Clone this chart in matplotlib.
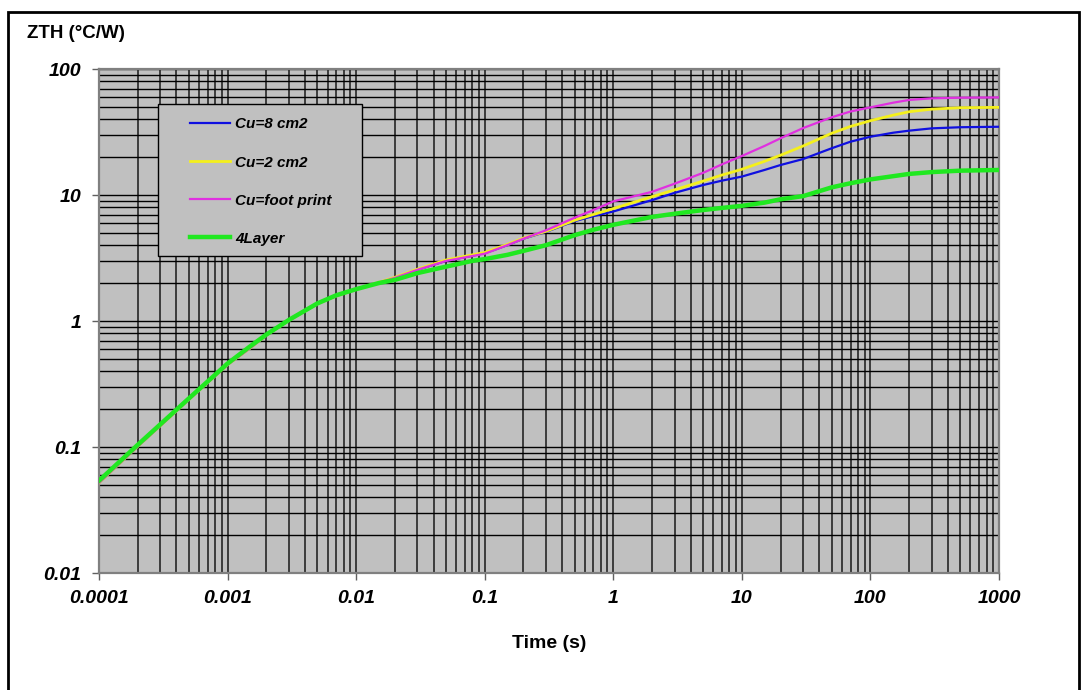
import matplotlib
matplotlib.use('Agg')
import matplotlib.pyplot as plt
from matplotlib.patches import Rectangle
from matplotlib.ticker import FixedLocator, LogLocator, NullFormatter

# Transient thermal impedance vs. time

t_early = [1e-4, 2e-4, 5e-4, 1e-3, 1.5e-3, 2e-3, 3e-3, 4e-3, 5e-3, 7e-3, 1e-2]
z_early = [0.052, 0.101, 0.238, 0.45, 0.61, 0.77, 1.01, 1.2, 1.37, 1.58, 1.78]

t_cu = t_early + [0.02, 0.03, 0.05, 0.1, 0.15, 0.2, 0.3, 0.5, 0.7, 1, 2, 3, 5, 7, 10,
                  15, 20, 30, 50, 70, 100, 150, 200, 300, 500, 1000]
z_cu8 = z_early + [2.2, 2.55, 3.0, 3.45, 4.0, 4.5, 5.1, 6.2, 6.8, 7.4, 9.1, 10.4, 12.0, 13.0, 14.0,
                   15.8, 17.3, 19.3, 23.5, 26.5, 29.0, 31.2, 32.4, 33.8, 34.5, 34.8]
z_cu2 = z_early + [2.22, 2.58, 3.05, 3.5, 4.05, 4.55, 5.15, 6.3, 7.0, 7.8, 9.7, 11.0, 12.9, 14.4, 16.0,
                   18.5, 20.7, 24.5, 30.9, 35.0, 38.9, 43.0, 45.8, 48.0, 49.3, 49.6]
z_foot = z_early + [2.2, 2.55, 3.0, 3.42, 4.0, 4.5, 5.25, 6.6, 7.6, 8.9, 10.6, 12.3, 15.0, 17.5, 20.4,
                    24.5, 28.2, 34.0, 41.4, 46.0, 49.6, 54.0, 56.8, 58.5, 59.2, 59.5]

t_4l = t_early + [0.015, 0.02, 0.03, 0.05, 0.08, 0.1, 0.15, 0.2, 0.3, 0.5, 0.7, 1, 2, 3, 5, 7, 10,
                  15, 20, 30, 50, 70, 100, 150, 200, 300, 500, 1000]
z_4l = [0.054, 0.104, 0.243, 0.46, 0.63, 0.78, 1.02, 1.21, 1.38, 1.6, 1.79,
        2.0, 2.12, 2.4, 2.7, 3.0, 3.1, 3.35, 3.6, 4.0, 4.8, 5.3, 5.8, 6.7, 7.1, 7.6, 7.9, 8.2,
        8.7, 9.25, 9.8, 11.5, 12.4, 13.3, 14.1, 14.7, 15.2, 15.6, 15.8]

series = [
    ('Cu=8 cm2', t_cu, z_cu8, '#1010e0', 1.6),
    ('Cu=2 cm2', t_cu, z_cu2, '#f4f01c', 2.0),
    ('Cu=foot print', t_cu, z_foot, '#e030e0', 1.6),
    ('4Layer', t_4l, z_4l, '#20e820', 3.2),
]

x_ticks = [1e-4, 1e-3, 1e-2, 1e-1, 1, 10, 100, 1000]
x_labels = ['0.0001', '0.001', '0.01', '0.1', '1', '10', '100', '1000']
y_ticks = [0.01, 0.1, 1, 10, 100]
y_labels = ['0.01', '0.1', '1', '10', '100']

plt.rcParams['font.family'] = ['Liberation Sans', 'DejaVu Sans']

fig = plt.figure(figsize=(10.82, 6.90), dpi=100)
ax = fig.add_axes([99 / 1082, 117 / 690, 900 / 1082, 504 / 690])
ax.set_facecolor('#c0c0c0')

for label, t, z, color, lw in series:
    ax.plot(t, z, color=color, lw=lw, label=label, zorder=3, solid_joinstyle='round')

ax.set_xscale('log')
ax.set_yscale('log')
ax.set_xlim(1e-4, 1000)
ax.set_ylim(0.01, 100)

ax.xaxis.set_major_locator(FixedLocator(x_ticks))
ax.yaxis.set_major_locator(FixedLocator(y_ticks))
ax.set_xticklabels(x_labels)
ax.set_yticklabels(y_labels)
ax.xaxis.set_minor_locator(LogLocator(base=10, subs=range(2, 10), numticks=20))
ax.yaxis.set_minor_locator(LogLocator(base=10, subs=range(2, 10), numticks=20))
ax.xaxis.set_minor_formatter(NullFormatter())
ax.yaxis.set_minor_formatter(NullFormatter())

ax.tick_params(which='major', length=5, width=1, color='#606060', pad=7.5)
ax.tick_params(which='minor', length=0)
for lab in ax.get_xticklabels() + ax.get_yticklabels():
    lab.set_fontsize(14)
    lab.set_fontweight('bold')
    lab.set_fontstyle('italic')

ax.grid(True, axis='x', which='both', color='#3c3c3c', lw=1.4, zorder=1)
ax.grid(True, axis='y', which='both', color='#000000', lw=1.0, zorder=1)
ax.set_axisbelow(True)

for sp in ax.spines.values():
    sp.set_color('#808080')
    sp.set_linewidth(1.6)

ax.set_xlabel('Time (s)', fontsize=14, fontweight='bold', labelpad=20)
fig.text(27 / 1082, 1 - 33 / 690, 'ZTH (°C/W)', fontsize=13.5, fontweight='bold',
         ha='left', va='center')

# legend frame + entries
ax.add_patch(Rectangle((0.0656, 0.629), 0.2266, 0.3016, transform=ax.transAxes,
                       facecolor='#c0c0c0', edgecolor='black', lw=1.0, zorder=4))
leg = ax.legend(loc='upper left', bbox_to_anchor=(0.1011, 0.904), frameon=False,
                borderpad=0, borderaxespad=0, labelspacing=1.58, handlelength=2.6,
                handletextpad=0.33, prop={'size': 11, 'weight': 'bold', 'style': 'italic'})
leg.set_zorder(5)

# outer border of the figure
fig.patches.append(Rectangle((8 / 1082, -0.05), 1071 / 1082, 1.05 - 12 / 690,
                             transform=fig.transFigure, fill=False,
                             edgecolor='black', lw=2.0))

fig.savefig('out.png', dpi=100)
